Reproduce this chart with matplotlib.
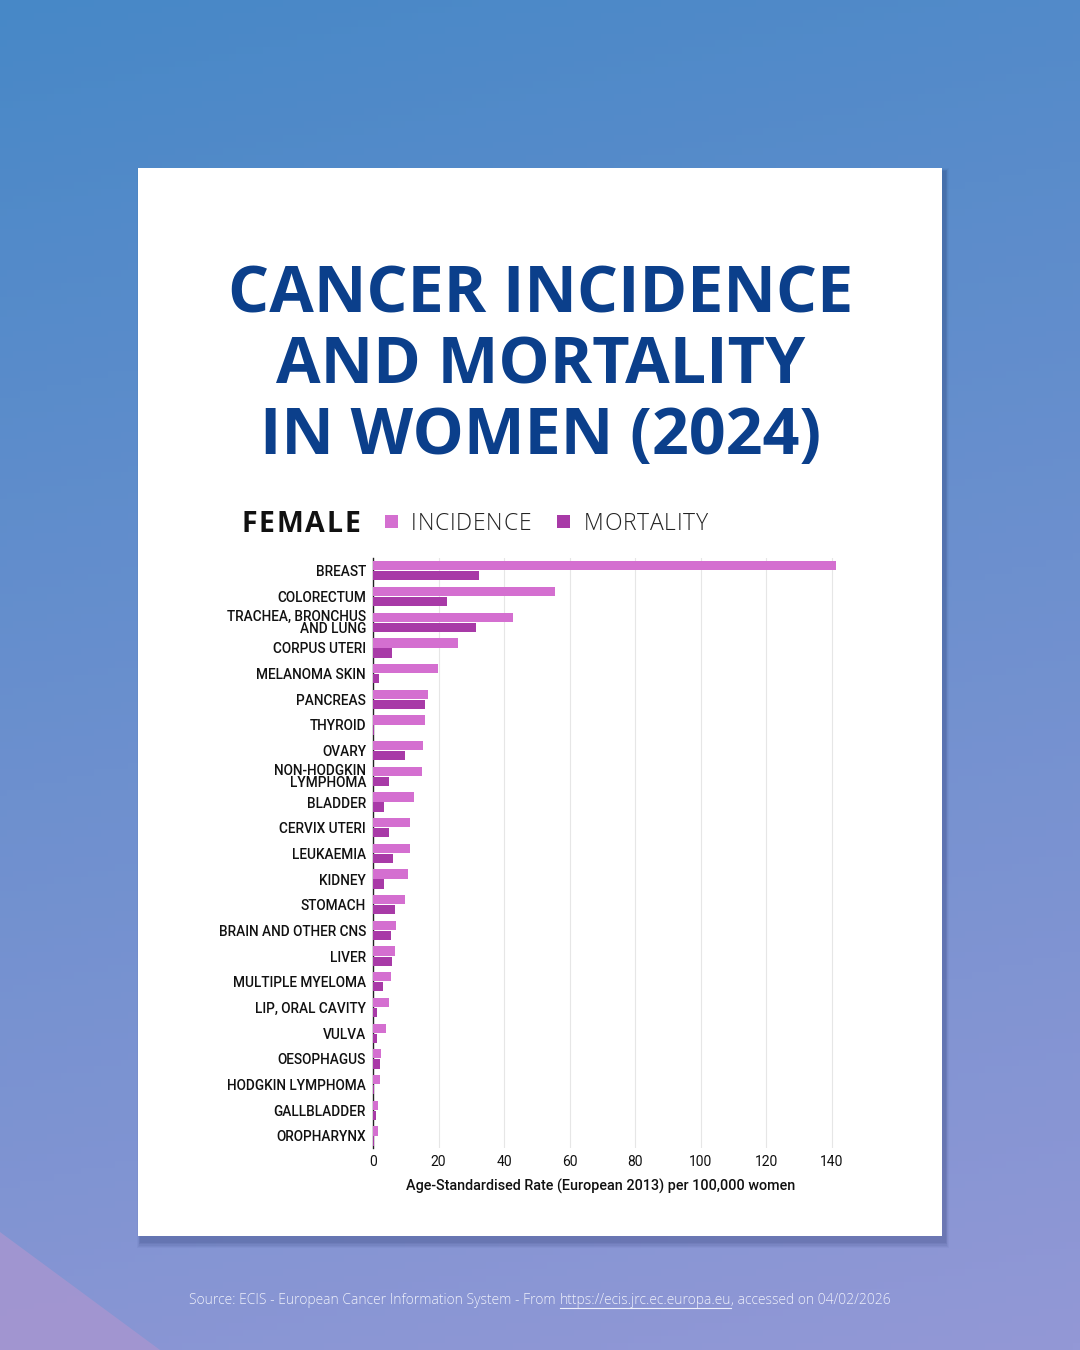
import numpy as np
import matplotlib
matplotlib.use("Agg")
import matplotlib.pyplot as plt
from matplotlib.patches import Rectangle, Polygon

# ---------------- data ----------------
categories = ["BREAST", "COLORECTUM", "TRACHEA, BRONCHUS\nAND LUNG", "CORPUS UTERI",
              "MELANOMA SKIN", "PANCREAS", "THYROID", "OVARY", "NON-HODGKIN\nLYMPHOMA",
              "BLADDER", "CERVIX UTERI", "LEUKAEMIA", "KIDNEY", "STOMACH",
              "BRAIN AND OTHER CNS", "LIVER", "MULTIPLE MYELOMA", "LIP, ORAL CAVITY",
              "VULVA", "OESOPHAGUS", "HODGKIN LYMPHOMA", "GALLBLADDER", "OROPHARYNX"]
incidence = [141.2, 55.4, 42.7, 25.8, 19.7, 16.9, 15.9, 15.4, 14.9, 12.4, 11.4,
             11.3, 10.6, 9.9, 7.0, 6.6, 5.6, 4.8, 3.9, 2.4, 2.0, 1.4, 1.5]
mortality = [32.2, 22.6, 31.5, 5.8, 1.9, 15.9, 0.4, 9.9, 4.9, 3.5, 4.9,
             6.1, 3.5, 6.6, 5.6, 5.8, 3.0, 1.3, 1.3, 2.0, 0.3, 1.0, 0.4]
xticks = [0, 20, 40, 60, 80, 100, 120, 140]
title_lines = ["CANCER INCIDENCE", "AND MORTALITY", "IN WOMEN (2024)"]
legend_labels = ["INCIDENCE", "MORTALITY"]
xlabel = "Age-Standardised Rate (European 2013) per 100,000 women"
source_pre = "Source: ECIS - European Cancer Information System - From "
source_url = "https://ecis.jrc.ec.europa.eu"
source_post = ", accessed on 04/02/2026"

INC_C = "#d46fd0"
MOR_C = "#a83aa7"
TITLE_C = "#0b3f8b"

W, H = 1080, 1350
fig = plt.figure(figsize=(W / 100, H / 100), dpi=100)

# ---------------- background ----------------
bg = fig.add_axes([0, 0, 1, 1])
bg.set_xlim(0, W); bg.set_ylim(H, 0); bg.axis("off")
yy, xx = np.mgrid[0:1:200j, 0:1:160j]
t = np.clip(yy * 0.85 + xx * 0.15, 0, 1)
top = np.array([0x47, 0x88, 0xc7]) / 255
bot = np.array([0x93, 0x98, 0xd6]) / 255
img = top[None, None, :] * (1 - t[..., None]) + bot[None, None, :] * t[..., None]
bg.imshow(img, extent=[0, W, H, 0], aspect="auto", zorder=0)
bg.add_patch(Polygon([[0, 1232], [0, 1350], [160, 1350]], closed=True,
                     facecolor="#a896d0", edgecolor="none", alpha=0.8, zorder=1))
# card shadow
for i, a in enumerate([0.04, 0.05, 0.06, 0.07, 0.08]):
    d = 12 - 2 * i
    bg.add_patch(Rectangle((138 - d * 0.3 + 3, 168 + 4 - d * 0.3), 804 + d * 0.6, 1068 + d,
                           facecolor="#1a2a60", edgecolor="none", alpha=a, zorder=2))
bg.add_patch(Rectangle((138, 168), 804, 1068, facecolor="white", edgecolor="none", zorder=3))

# title
for i, line in enumerate(title_lines):
    bg.text(541, 296 + i * 70.5, line, ha="center", va="center", fontsize=46.5,
            fontweight="bold", color=TITLE_C, family="Open Sans", zorder=5)

fig.canvas.draw()
renderer = fig.canvas.get_renderer()

def spaced(x, y, s, spacing, **kw):
    for ch in s:
        tx = bg.text(x, y, ch, ha="left", va="center", zorder=5, **kw)
        bb = tx.get_window_extent(renderer)
        x += bb.width + spacing
    return x

spaced(241, 525, "FEMALE", 2.0, fontsize=20.5, fontweight="bold", color="#111111", family="Open Sans")
bg.add_patch(Rectangle((385, 515), 13, 13, facecolor=INC_C, edgecolor="none", zorder=5))
spaced(411, 524, legend_labels[0], 0.7, fontsize=16.5, fontweight="light", color="#222222", family="Open Sans")
bg.add_patch(Rectangle((557, 515), 13, 13, facecolor=MOR_C, edgecolor="none", zorder=5))
spaced(584, 524, legend_labels[1], 0.7, fontsize=16.5, fontweight="light", color="#222222", family="Open Sans")

# source
src_kw = dict(fontsize=10, color="#eef0fb", family="Open Sans", fontweight="light", va="center", zorder=5)
probe = [bg.text(0, -100, s, ha="left", **src_kw) for s in (source_pre, source_url, source_post)]
widths = [p.get_window_extent(renderer).width for p in probe]
for p in probe:
    p.remove()
x0 = 540 - sum(widths) / 2
bg.text(x0, 1300, source_pre, ha="left", **src_kw)
bg.text(x0 + widths[0], 1300, source_url, ha="left", **src_kw)
bg.plot([x0 + widths[0], x0 + widths[0] + widths[1]], [1308, 1308], color="#eef0fb", lw=0.8, zorder=5)
bg.text(x0 + widths[0] + widths[1], 1300, source_post, ha="left", **src_kw)

# ---------------- chart ----------------
xmax = 145
ax_left = 373 / W
ax_w = xmax * 3.279 / W
ax_top = 558
ax_bot = 1148
ax = fig.add_axes([ax_left, 1 - ax_bot / H, ax_w, (ax_bot - ax_top) / H], zorder=6)
ax.patch.set_alpha(0)
y = np.arange(len(categories))
h = 0.36
ax.barh(y - 0.195, incidence, height=h, color=INC_C, zorder=3)
ax.barh(y + 0.195, mortality, height=h, color=MOR_C, zorder=3)
ax.set_xlim(0, xmax)
ax.set_ylim(len(categories) - 0.53, -0.5)
ax.set_yticks(y)
ax.set_yticklabels(categories, fontsize=9.8, family="Roboto", fontweight="medium",
                   color="#111111", linespacing=0.85)
ax.set_xticks(xticks)
ax.set_xticklabels([str(v) for v in xticks], fontsize=10, family="Roboto", color="#111111")
ax.tick_params(axis="both", length=0)
ax.tick_params(axis="y", pad=5)
ax.tick_params(axis="x", pad=5)
for s in ["top", "right", "bottom"]:
    ax.spines[s].set_visible(False)
ax.spines["left"].set_color("#222222")
ax.spines["left"].set_linewidth(1.0)
for v in xticks[1:]:
    ax.axvline(v, color="#e6e6e6", lw=0.8, zorder=1)
ax.set_xlabel(xlabel, fontsize=10.4, family="Roboto", fontweight="medium", color="#111111")
ax.xaxis.set_label_coords((601 - 373) / (xmax * 3.279), -31 / (ax_bot - ax_top))

fig.savefig("out.png", dpi=100)
